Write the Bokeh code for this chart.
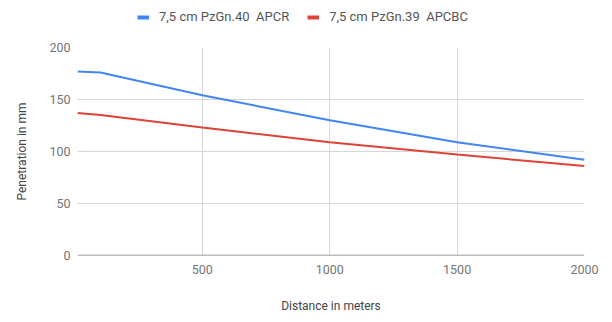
from bokeh.plotting import figure
from bokeh.layouts import column
from bokeh.models import (Range1d, FixedTicker, Legend, LegendItem, Span,
                          ColumnDataSource)
from bokeh.embed import file_html
from bokeh.resources import INLINE

# Data
distance = [10, 100, 500, 1000, 1500, 2000]
pzgr40_apcr = [177, 176, 154, 130, 109, 92]
pzgr39_apcbc = [137, 135, 123, 109, 97, 86]

series_labels = ["7,5 cm PzGn.40  APCR", "7,5 cm PzGn.39  APCBC"]
series_colors = ["#4285F4", "#DB4437"]

x_ticks = [500, 1000, 1500, 2000]
y_ticks = [0, 50, 100, 150, 200]

FONT = "Roboto"

src = ColumnDataSource(dict(d=distance, a=pzgr40_apcr, b=pzgr39_apcbc))

# ---- legend strip (top); its ranges keep the swatch lines off-frame ----
lg = figure(width=612, height=39, x_range=Range1d(-2, -1), y_range=Range1d(-2, -1),
            x_axis_type=None, y_axis_type=None, output_backend="svg",
            toolbar_location=None, min_border=0)
lg.outline_line_color = None
sw1 = lg.line("d", "a", source=src, line_color=series_colors[0], line_width=4)
sw2 = lg.line("d", "b", source=src, line_color=series_colors[1], line_width=4)
legend = Legend(items=[LegendItem(label=series_labels[0], renderers=[sw1]),
                       LegendItem(label=series_labels[1], renderers=[sw2])],
                orientation="horizontal", location=(60, 15),
                padding=0, margin=0, spacing=18, label_standoff=10,
                glyph_width=12, glyph_height=12, label_height=12,
                border_line_color=None, background_fill_alpha=0,
                label_text_font=FONT, label_text_font_size="13px",
                label_text_color="#555555")
lg.add_layout(legend)

# ---- main chart ----
p = figure(width=612, height=283, x_range=Range1d(10, 2000),
           y_range=Range1d(0, 200), output_backend="svg",
           toolbar_location=None,
           min_border_left=77, min_border_right=28,
           min_border_top=8, min_border_bottom=67)
p.outline_line_color = None

p.xgrid.ticker = FixedTicker(ticks=x_ticks)
p.ygrid.ticker = FixedTicker(ticks=y_ticks)
for g in (p.xgrid, p.ygrid):
    g.grid_line_color = "#d6d6d6"
    g.grid_line_width = 1

p.xaxis.ticker = FixedTicker(ticks=x_ticks)
p.yaxis.ticker = FixedTicker(ticks=y_ticks)
for ax in (p.xaxis, p.yaxis):
    ax.axis_line_color = None
    ax.major_tick_line_color = None
    ax.minor_tick_line_color = None
    ax.major_tick_out = 0
    ax.major_tick_in = 0
    ax.minor_tick_out = 0
    ax.minor_tick_in = 0
    ax.major_label_text_font = FONT
    ax.major_label_text_font_size = "12.5px"
    ax.major_label_text_color = "#757575"
    ax.axis_label_text_font = FONT
    ax.axis_label_text_font_size = "12px"
    ax.axis_label_text_font_style = "normal"
    ax.axis_label_text_color = "#444444"

p.xaxis.axis_label = "Distance in meters"
p.yaxis.axis_label = "Penetration in mm"
p.xaxis.major_label_standoff = 9
p.yaxis.major_label_standoff = 7
p.xaxis.axis_label_standoff = 22
p.yaxis.axis_label_standoff = 17

p.add_layout(Span(location=0, dimension="width", line_color="#7a7a7a",
                  line_width=1.5))

p.line("d", "a", source=src, line_color=series_colors[0], line_width=2)
p.line("d", "b", source=src, line_color=series_colors[1], line_width=2)

layout = column(lg, p, spacing=0)
open("out.html", "w").write(file_html(layout, INLINE))
